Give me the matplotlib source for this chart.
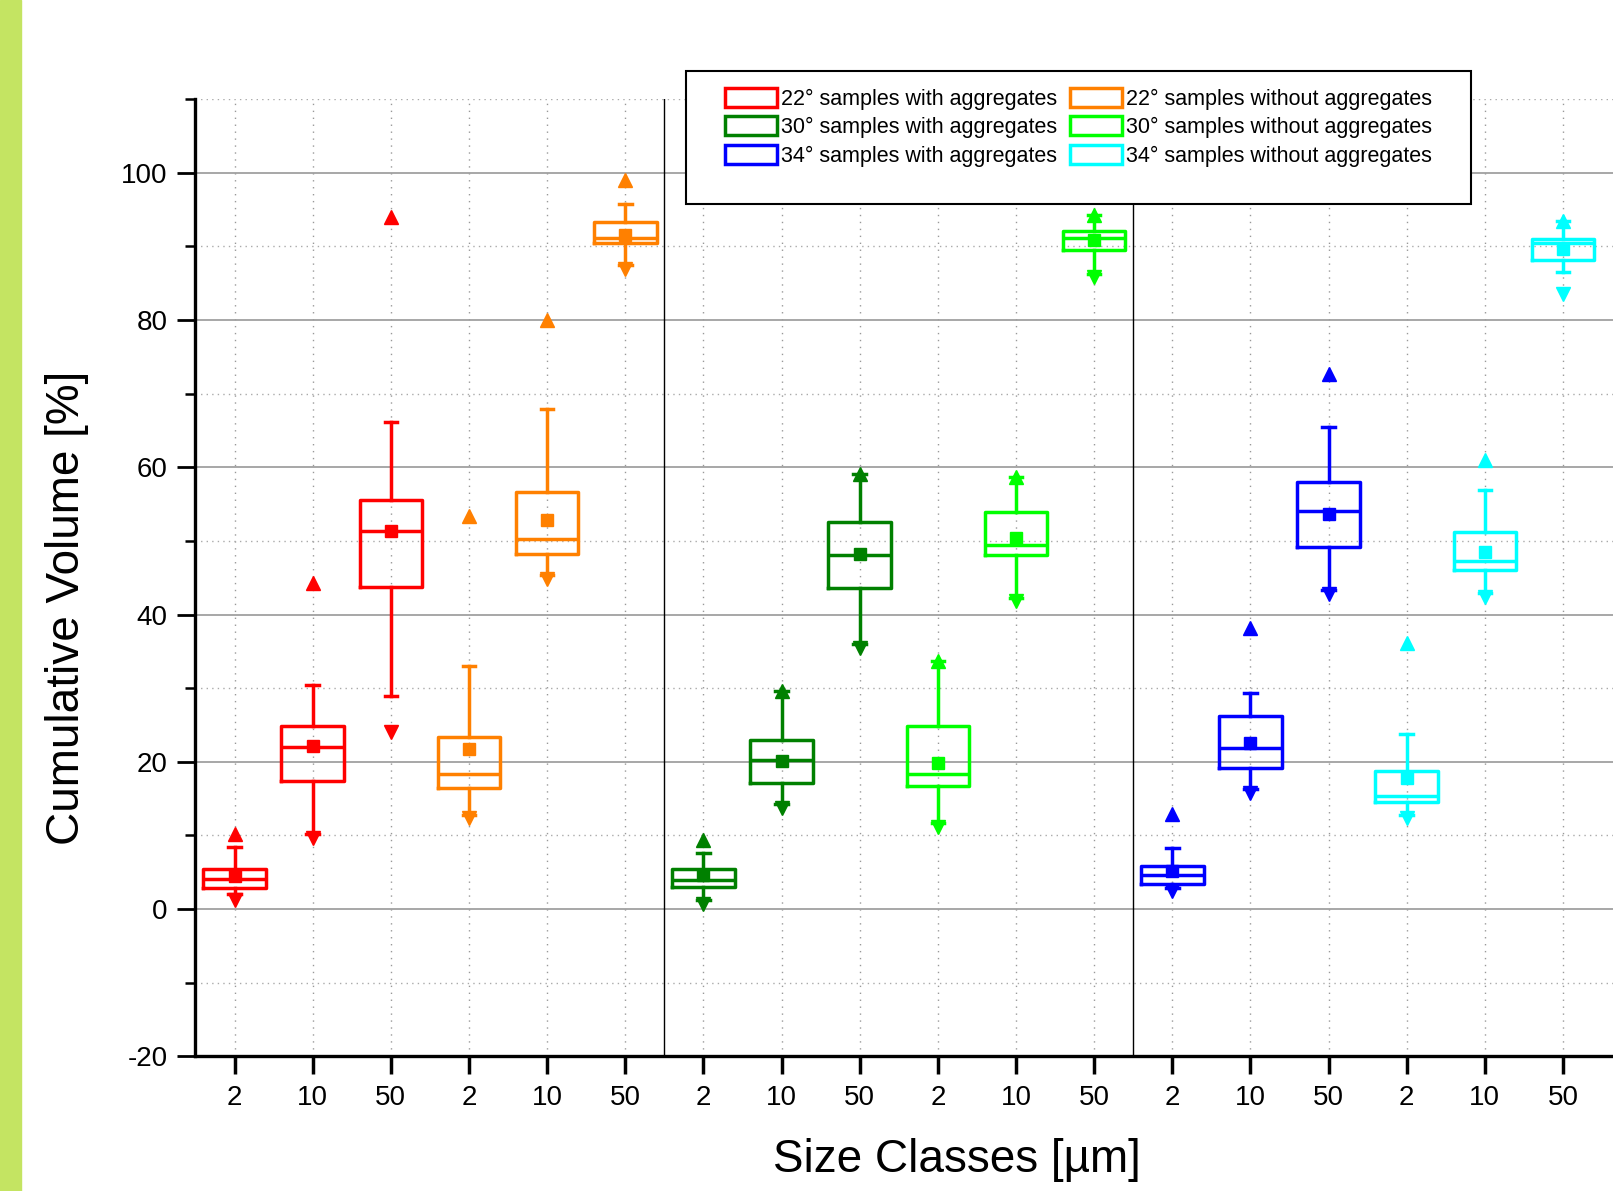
import matplotlib
matplotlib.use('Agg')
import matplotlib.pyplot as plt
from matplotlib.patches import Patch, Rectangle
from matplotlib.ticker import MultipleLocator
import numpy as np

plt.rcParams['font.family'] = ['Liberation Sans', 'DejaVu Sans']
plt.rcParams['axes.unicode_minus'] = False

# ── Data ─────────────────────────────────────────────────────────────────────
size_labels = ['2', '10', '50'] * 6
series = ['22° samples with aggregates', '22° samples without aggregates',
          '30° samples with aggregates', '30° samples without aggregates',
          '34° samples with aggregates', '34° samples without aggregates']
colors = ['#ff0000', '#ff8000', '#008000', '#00ff00', '#0000ff', '#00ffff']

# one value per box, 3 size classes per series, series in the order above
q1     = [2.8, 17.4, 43.7, 16.4, 48.2, 90.5, 3.0, 17.1, 43.6, 16.7, 48.1, 89.5,
          3.4, 19.2, 49.2, 14.6, 46.1, 88.2]
med    = [4.1, 22.0, 51.4, 18.3, 50.3, 91.1, 4.0, 20.2, 48.1, 18.3, 49.4, 91.2,
          4.6, 21.9, 54.1, 15.4, 47.3, 90.5]
q3     = [5.4, 24.9, 55.6, 23.3, 56.7, 93.3, 5.5, 22.9, 52.5, 24.8, 53.9, 92.1,
          5.8, 26.2, 58.0, 18.8, 51.2, 91.0]
means  = [4.5, 22.1, 51.3, 21.7, 52.8, 91.6, 4.6, 20.1, 48.2, 19.8, 50.4, 90.9,
          5.1, 22.6, 53.7, 17.8, 48.5, 89.6]
whislo = [2.0, 10.2, 29.0, 12.8, 45.3, 87.4, 1.2, 14.2, 36.0, 11.7, 42.3, 86.3,
          2.9, 16.3, 43.3, 12.8, 42.9, 86.5]
whishi = [8.4, 30.4, 66.1, 33.0, 67.9, 95.7, 7.6, 29.6, 59.1, 33.7, 58.7, 94.2,
          8.3, 29.4, 65.4, 23.8, 56.9, 93.5]
p_min  = [1.2, 9.7, 24.1, 12.3, 44.8, 86.9, 0.7, 13.7, 35.5, 11.2, 41.8, 85.8,
          2.4, 15.8, 42.8, 12.3, 42.4, 83.5]
p_max  = [10.2, 44.3, 94.0, 53.4, 80.0, 99.0, 9.4, 29.6, 59.1, 33.7, 58.7, 94.2,
          12.9, 38.2, 72.6, 36.1, 61.0, 93.5]

# ── Figure ───────────────────────────────────────────────────────────────────
fig = plt.figure(figsize=(16.13, 11.91), dpi=100)
fig.patches.append(Rectangle((0, 0), 0.0128, 1, transform=fig.transFigure,
                             color='#c4e462', zorder=0))
ax = fig.add_axes([0.1212, 0.1131, 0.8788, 0.8037])

positions = np.arange(1, len(size_labels) + 1)
LW = 2.5
for i, c in enumerate(colors):
    sl = slice(3 * i, 3 * i + 3)
    stats = []
    for j in range(3 * i, 3 * i + 3):
        stats.append(dict(q1=q1[j], med=med[j], q3=q3[j], mean=means[j],
                          whislo=whislo[j], whishi=whishi[j], fliers=[]))
    ax.bxp(stats, positions=positions[sl], widths=0.8, capwidths=0.16,
           showmeans=True, showfliers=False,
           boxprops=dict(color=c, lw=LW),
           whiskerprops=dict(color=c, lw=LW),
           capprops=dict(color=c, lw=LW),
           medianprops=dict(color=c, lw=LW),
           meanprops=dict(marker='s', markerfacecolor=c, markeredgecolor=c,
                          markersize=8))
    ax.plot(positions[sl], p_max[sl], ls='none', marker='^', color=c, ms=10, zorder=4)
    ax.plot(positions[sl], p_min[sl], ls='none', marker='v', color=c, ms=10, zorder=4)

# group separators
for xs in (6.5, 12.5):
    ax.axvline(xs, color='black', lw=1.0, zorder=1)

ax.set_xlim(0.5, 18.64)
ax.set_ylim(-20, 110)
ax.set_xticks(positions)
ax.set_xticklabels(size_labels)
ax.yaxis.set_major_locator(MultipleLocator(20))
ax.yaxis.set_minor_locator(MultipleLocator(10))

ax.grid(axis='x', which='major', ls=(0, (1, 4)), color='#999999', lw=1.0, zorder=0)
ax.grid(axis='y', which='major', ls='-', color='#a0a0a0', lw=1.3, zorder=0)
ax.grid(axis='y', which='minor', ls=(0, (1, 3)), color='#aaaaaa', lw=1.0, zorder=0)
ax.set_axisbelow(True)

for s in ('top', 'right'):
    ax.spines[s].set_visible(False)
for s in ('left', 'bottom'):
    ax.spines[s].set_linewidth(2.4)

ax.tick_params(axis='y', which='major', direction='out', length=13, width=2,
               labelsize=20, pad=7)
ax.tick_params(axis='y', which='minor', direction='out', length=7, width=1.8)
ax.tick_params(axis='x', which='major', direction='out', length=13, width=2.5,
               labelsize=20, pad=8)

fig.text(67 / 1613, 0.49, 'Cumulative Volume [%]', rotation=90,
         ha='center', va='center', fontsize=33)
fig.text(0.593, 0.026, 'Size Classes [µm]', ha='center', va='center', fontsize=33)

# Legend with a fixed frame that hangs over the top of the plot
fig.patches.append(Rectangle((0.4254, 0.829), 0.4866, 0.1114,
                             transform=fig.transFigure, facecolor='white',
                             edgecolor='black', lw=1.5, zorder=4))
order = [0, 2, 4, 1, 3, 5]
handles = [Patch(facecolor='white', edgecolor=colors[k], lw=2.5, label=series[k])
           for k in order]
leg = fig.legend(handles=handles, ncol=2, loc='upper left',
                 bbox_to_anchor=(0.4496, 0.9264), frameon=False, fontsize=15.5,
                 handlelength=2.4, handleheight=1.0, handletextpad=0.2,
                 columnspacing=0.6, labelspacing=0.3, borderpad=0,
                 borderaxespad=0)
leg.set_zorder(6)

fig.savefig('out.png', dpi=100, facecolor='white')
